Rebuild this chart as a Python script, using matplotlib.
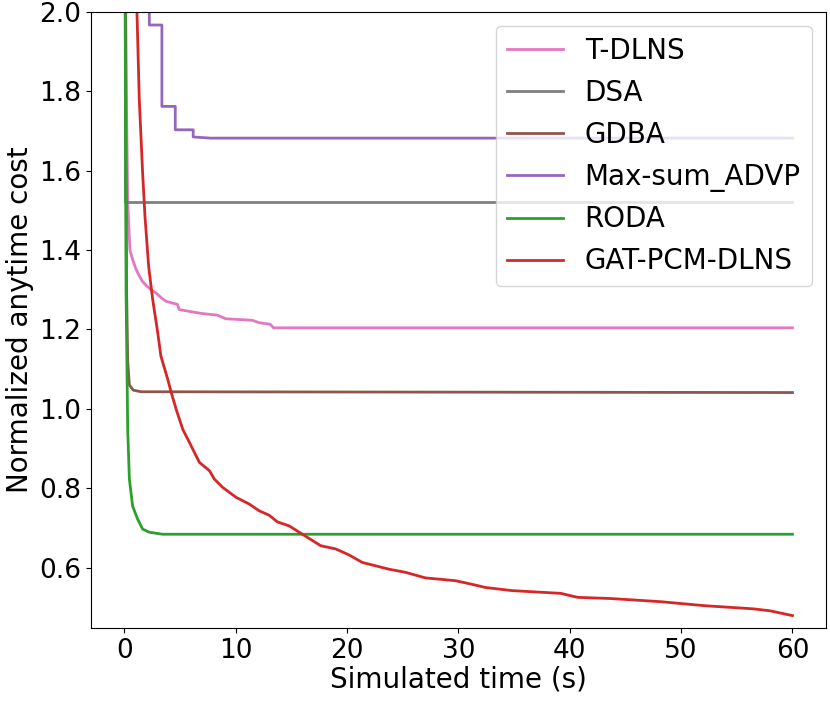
import numpy as np
import matplotlib
matplotlib.use("Agg")
import matplotlib.pyplot as plt

# anytime cost curves (time in s, normalized cost)
tdlns_t = [0.1, 0.2, 0.3, 0.5, 0.74, 1.0, 1.28, 1.6, 1.94, 2.4, 2.84, 3.3, 3.73, 4.5, 4.77, 4.92,
           6.12, 7.0, 8.35, 9.1, 11.5, 12.1, 13.1, 13.4, 60]
tdlns_c = [2.1, 1.75, 1.52, 1.40, 1.376, 1.355, 1.338, 1.322, 1.311, 1.300, 1.292, 1.280, 1.271,
           1.265, 1.263, 1.250, 1.244, 1.240, 1.236, 1.227, 1.223, 1.217, 1.213, 1.204, 1.204]

dsa_t = [0.06, 0.06, 60]
dsa_c = [2.1, 1.52, 1.52]

gdba_t = [0.08, 0.2, 0.3, 0.45, 0.8, 1.5, 60]
gdba_c = [2.1, 1.3, 1.12, 1.06, 1.047, 1.043, 1.041]

maxsum_t = [2.24, 2.24, 3.37, 3.37, 4.57, 4.57, 6.18, 6.18, 7.76, 60]
maxsum_c = [2.1, 1.967, 1.967, 1.762, 1.762, 1.703, 1.703, 1.685, 1.682, 1.682]

roda_t = [0.06, 0.15, 0.3, 0.45, 0.74, 1.19, 1.64, 2.24, 3.43, 60]
roda_c = [2.1, 1.3, 0.948, 0.823, 0.755, 0.722, 0.697, 0.689, 0.684, 0.684]

gat_t = [1.13, 1.34, 1.64, 1.85, 2.18, 2.54, 2.98, 3.28, 3.90, 4.21, 4.65, 5.25, 5.85, 6.29, 6.74,
         7.64, 8.08, 8.83, 10.03, 11.22, 12.11, 13.0, 13.75, 14.8, 15.99, 17.64, 18.98, 20.17,
         21.36, 23.75, 25.25, 27.04, 29.72, 31.2, 32.4, 33.6, 34.8, 39.2, 40.7, 43.7, 48.2, 52.1,
         56.5, 58.0, 60]
gat_c = [2.0, 1.779, 1.594, 1.485, 1.359, 1.276, 1.195, 1.133, 1.074, 1.041, 0.999, 0.948, 0.915,
         0.890, 0.865, 0.844, 0.823, 0.802, 0.777, 0.760, 0.743, 0.732, 0.715, 0.705, 0.684, 0.655,
         0.647, 0.632, 0.613, 0.596, 0.588, 0.574, 0.567, 0.558, 0.550, 0.546, 0.542, 0.535, 0.525,
         0.522, 0.514, 0.504, 0.496, 0.491, 0.479]

fig = plt.figure(figsize=(8.3, 7.01), dpi=100)
ax = fig.add_axes([0.1096, 0.1037, 0.8854, 0.8793])

ax.plot(tdlns_t, tdlns_c, color="tab:pink", lw=2, label="T-DLNS")
ax.plot(dsa_t, dsa_c, color="tab:gray", lw=2, label="DSA")
ax.plot(gdba_t, gdba_c, color="tab:brown", lw=2, label="GDBA")
ax.plot(maxsum_t, maxsum_c, color="tab:purple", lw=2, label="Max-sum_ADVP")
ax.plot(roda_t, roda_c, color="tab:green", lw=2, label="RODA")
ax.plot(gat_t, gat_c, color="tab:red", lw=2, label="GAT-PCM-DLNS")

ax.set_xlim(-3, 63)
ax.set_ylim(0.447, 2.0)
ax.set_xticks([0, 10, 20, 30, 40, 50, 60])
ax.set_yticks([0.6, 0.8, 1.0, 1.2, 1.4, 1.6, 1.8, 2.0])
ax.tick_params(labelsize=19)
ax.set_xlabel("Simulated time (s)", fontsize=20, labelpad=1)
ax.set_ylabel("Normalized anytime cost", fontsize=20)
ax.legend(loc="upper right", fontsize=20)

fig.savefig("out.png", dpi=100)
